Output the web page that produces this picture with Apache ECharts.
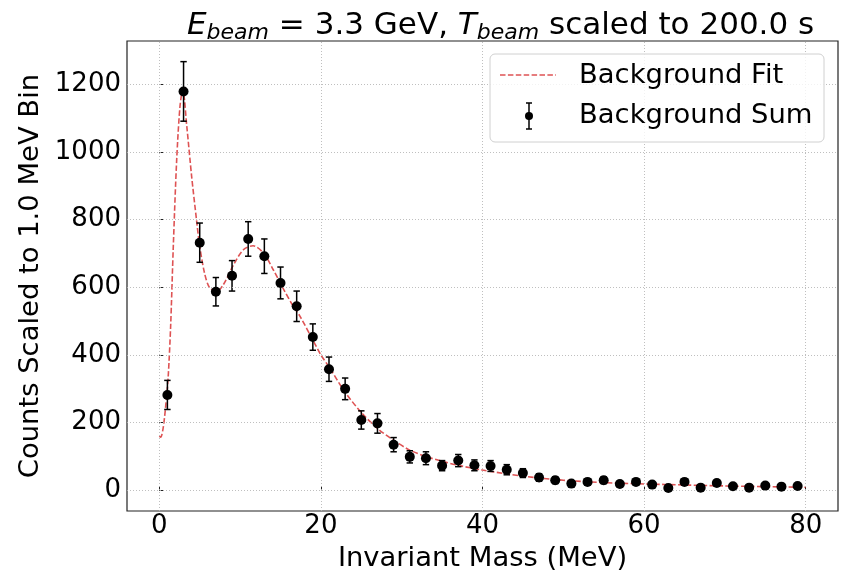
<!DOCTYPE html>
<html>
<head>
<meta charset="utf-8">
<script src="https://cdn.jsdelivr.net/npm/echarts@6/dist/echarts.min.js"></script>
<style>
html,body{margin:0;padding:0;background:#fff;}
#chart{width:848px;height:570px;}
</style>
</head>
<body>
<div id="chart"></div>
<script>
// ---- data ----
const massX = [1,3,5,7,9,11,13,15,17,19,21,23,25,27,29,31,33,35,37,39,41,43,45,47,49,51,53,55,57,59,61,63,65,67,69,71,73,75,77,79];
const counts = [282,1179,732,587,634,743,692,613,544,453,358,300,208,198,135,99,95,73,88,74,72,61,51,38,30,20,25,30,19,25,17,7,25,8,22,12,8,14,11,13];
const countErr = [43,88,58,42,45,51,51,47,45,39,36,32,27,29,21,18,19,15,18,16,16,15,13,11,10,8,9,10,8,9,7,5,9,5,8,6,5,6,6,6];
const fitX = [0,0.17,0.5,0.9,1.1,1.4,1.73,2.15,2.56,2.9,3.4,4.0,4.6,5.0,5.6,6.2,7.1,7.9,9.2,10.4,11.6,12.9,14.1,15.3,16.6,17.4,19.1,20,21,23,25,27,29,31,33,35,37,40,45,50,55,60,65,70,75,80];
const fitY = [160,157,188,277,336,484,721,977,1135,1184,1076,928,800,721,642,600,588,607,667,711,723,701,652,598,543,515,440,400,365,290,230,183,148,119,100,86,74,60,42,30,23,19,16,13,11,9];
const xTicks = [0,20,40,60,80];
const yTicks = [0,200,400,600,800,1000,1200];

const FONT = 'DejaVu Sans';
const fitColor = 'rgba(214,39,40,0.8)';
const gridColor = '#b8b8b8';

const chart = echarts.init(document.getElementById('chart'), null, {renderer:'canvas'});

const gridLines = yTicks.map(v => ({yAxis: v})).concat(xTicks.map(v => ({xAxis: v})));

const option = {
  animation: false,
  backgroundColor: '#fff',
  title: {
    left: 182, top: 3,
    text: '{i|E}{s|beam}{n| = 3.3 GeV, }{i|T}{s|beam}{n| scaled to 200.0 s}',
    textStyle: {
      fontFamily: FONT,
      fontSize: 31,
      fontWeight: 'normal',
      color: '#000',
      rich: {
        i: {fontFamily: FONT, fontSize: 31, fontStyle: 'italic', color:'#000'},
        s: {fontFamily: FONT, fontSize: 22, fontStyle: 'italic', color:'#000', padding:[14,0,0,0]},
        n: {fontFamily: FONT, fontSize: 31, color:'#000'}
      }
    }
  },
  grid: {left:127, right:10, top:41, bottom:59, show:true, borderColor:'#222', borderWidth:1.2, backgroundColor:'transparent', containLabel:false, outerBoundsMode:'none'},
  xAxis: {
    type:'value', min:-4, max:84,
    axisLine:{show:false},
    splitLine:{show:false},
    axisTick:{show:true, inside:true, length:4, lineStyle:{color:'#222', width:1}, customValues: xTicks},
    axisLabel:{customValues: xTicks, fontSize:26, fontFamily:FONT, color:'#000', margin:2, formatter: v => String(v)},
    name:'Invariant Mass (MeV)', nameLocation:'middle', nameGap:34,
    nameTextStyle:{fontSize:27.4, fontFamily:FONT, color:'#000'}
  },
  yAxis: {
    type:'value', min:-61, max:1328,
    axisLine:{show:false},
    splitLine:{show:false},
    axisTick:{show:true, inside:true, length:4, lineStyle:{color:'#222', width:1}, customValues: yTicks},
    axisLabel:{customValues: yTicks, fontSize:26, fontFamily:FONT, color:'#000', margin:6, formatter: v => String(v)},
    name:'Counts Scaled to 1.0 MeV Bin', nameLocation:'middle', nameGap:81, nameRotate:90,
    nameTextStyle:{fontSize:27.4, fontFamily:FONT, color:'#000'}
  },
  series: [
    {
      name:'Background Fit', type:'line',
      data: fitX.map((x,i)=>[x, fitY[i]]),
      smooth: 0.3, showSymbol:false, symbol:'none',
      lineStyle:{color:fitColor, width:1.6, type:[5.5,2.4]},
      z: 3,
      markLine: {
        silent:true, symbol:['none','none'], label:{show:false},
        lineStyle:{color:gridColor, type:[1,2], width:0.9},
        emphasis:{disabled:true},
        data: gridLines
      }
    },
    {
      name:'Background Sum err', type:'custom',
      data: massX.map((x,i)=>[x, counts[i], countErr[i]]),
      encode:{x:0, y:1},
      z: 4,
      renderItem: function(params, api){
        const x = api.value(0), y = api.value(1), e = api.value(2);
        const t = api.coord([x, y+e]), b = api.coord([x, y-e]);
        const c = 3.2;
        const st = {stroke:'#000', lineWidth:1.5};
        return {type:'group', children:[
          {type:'line', shape:{x1:t[0], y1:t[1], x2:b[0], y2:b[1]}, style:st},
          {type:'line', shape:{x1:t[0]-c, y1:t[1], x2:t[0]+c, y2:t[1]}, style:st},
          {type:'line', shape:{x1:b[0]-c, y1:b[1], x2:b[0]+c, y2:b[1]}, style:st}
        ]};
      }
    },
    {
      name:'Background Sum', type:'scatter',
      data: massX.map((x,i)=>[x, counts[i]]),
      symbol:'circle', symbolSize:10,
      itemStyle:{color:'#000', opacity:1},
      z: 5
    }
  ],
  graphic: [
    {type:'rect', z:100, shape:{x:490, y:54, width:334, height:88, r:5}, style:{fill:'rgba(255,255,255,0.8)', stroke:'#d0d0d0', lineWidth:1}},
    {type:'line', z:101, shape:{x1:500, y1:75, x2:556, y2:75}, style:{stroke:fitColor, lineWidth:1.6, lineDash:[5.5,2.4]}},
    {type:'line', z:101, shape:{x1:529, y1:103, x2:529, y2:129}, style:{stroke:'#000', lineWidth:1.5}},
    {type:'line', z:101, shape:{x1:526, y1:103, x2:532, y2:103}, style:{stroke:'#000', lineWidth:1.5}},
    {type:'line', z:101, shape:{x1:526, y1:129, x2:532, y2:129}, style:{stroke:'#000', lineWidth:1.5}},
    {type:'circle', z:101, shape:{cx:529, cy:116, r:4}, style:{fill:'#000'}},
    {type:'text', z:101, x:579, y:76, style:{text:'Background Fit', font:'27.4px "DejaVu Sans"', fill:'#000', verticalAlign:'middle'}},
    {type:'text', z:101, x:579, y:116, style:{text:'Background Sum', font:'27.4px "DejaVu Sans"', fill:'#000', verticalAlign:'middle'}}
  ]
};
chart.setOption(option);
</script>
</body>
</html>
